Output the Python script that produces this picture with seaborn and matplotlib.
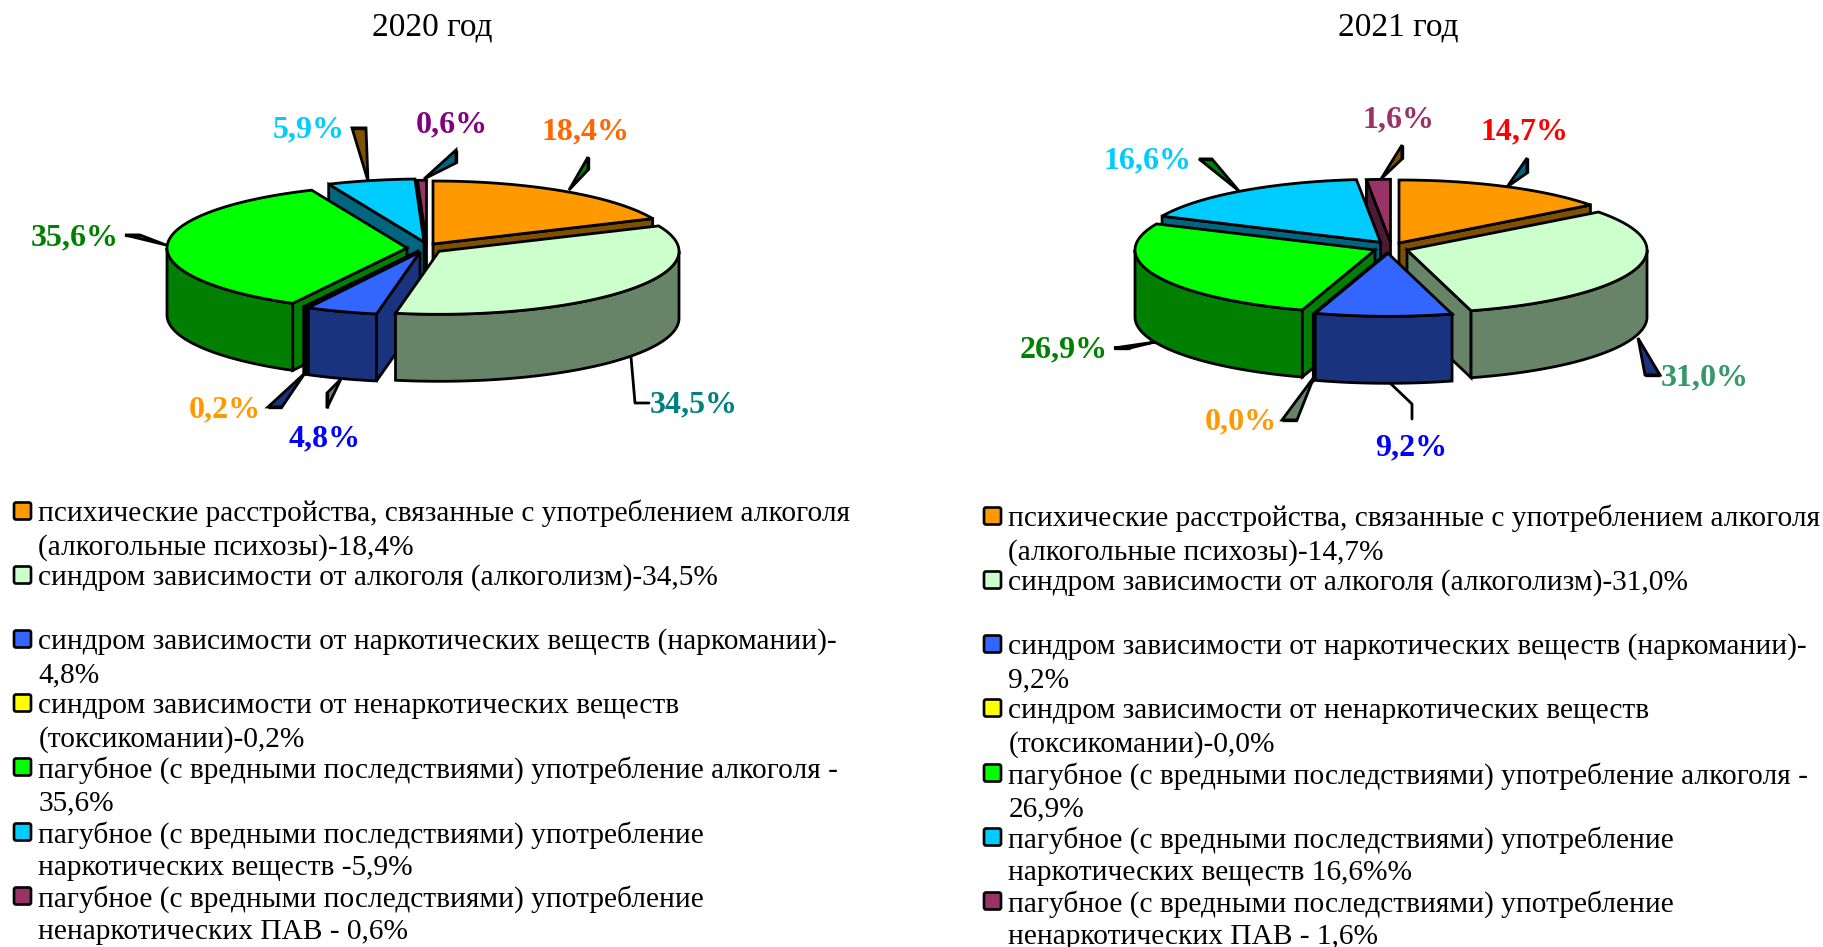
import numpy as np
import matplotlib
matplotlib.use("Agg")
import matplotlib.pyplot as plt
from matplotlib.patches import Polygon, FancyBboxPatch
import seaborn as sns

# ---------- data ----------
titles = ["2020 год", "2021 год"]
values_2020 = [18.4, 34.5, 4.8, 0.2, 35.6, 5.9, 0.6]
values_2021 = [14.7, 31.0, 9.2, 0.0, 26.9, 16.6, 1.6]
labels_2020 = ["18,4%", "34,5%", "4,8%", "0,2%", "35,6%", "5,9%", "0,6%"]
labels_2021 = ["14,7%", "31,0%", "9,2%", "0,0%", "26,9%", "16,6%", "1,6%"]
legend_2020 = [
    ["психические расстройства, связанные с употреблением алкоголя", "(алкогольные психозы)-18,4%"],
    ["синдром зависимости от алкоголя (алкоголизм)-34,5%"],
    ["синдром зависимости от наркотических веществ (наркомании)-", "4,8%"],
    ["синдром зависимости от ненаркотических веществ", "(токсикомании)-0,2%"],
    ["пагубное (с вредными последствиями) употребление алкоголя -", "35,6%"],
    ["пагубное (с вредными последствиями) употребление", "наркотических веществ -5,9%"],
    ["пагубное (с вредными последствиями) употребление", "ненаркотических ПАВ - 0,6%"],
]
legend_2021 = [
    ["психические расстройства, связанные с употреблением алкоголя", "(алкогольные психозы)-14,7%"],
    ["синдром зависимости от алкоголя (алкоголизм)-31,0%"],
    ["синдром зависимости от наркотических веществ (наркомании)-", "9,2%"],
    ["синдром зависимости от ненаркотических веществ", "(токсикомании)-0,0%"],
    ["пагубное (с вредными последствиями) употребление алкоголя -", "26,9%"],
    ["пагубное (с вредными последствиями) употребление", "наркотических веществ 16,6%%"],
    ["пагубное (с вредными последствиями) употребление", "ненаркотических ПАВ - 1,6%"],
]

# ---------- styles ----------
top_colors = sns.color_palette(["#FF9900", "#CCFFCC", "#3366FF", "#FFFF00", "#00FF00", "#00CCFF", "#993366"])
side_colors = sns.color_palette(["#7F5000", "#688468", "#1A337F", "#7F7F00", "#007F00", "#006680", "#4D1A33"])
label_colors_2020 = ["#FF6600", "#008080", "#0000FF", "#FF9900", "#008000", "#00CCFF", "#800080"]
label_colors_2021 = ["#FF0000", "#339966", "#0000FF", "#FF9900", "#008000", "#00CCFF", "#993366"]

sns.set_theme(style="white")
plt.rcParams["font.family"] = ["Liberation Serif", "DejaVu Serif"]

RX, RY, DEPTH = 240, 63, 67
LW = 2.0

# ---------- layout (pixel positions on the sheet) ----------
apex_2020 = [(433, 244), (439, 251.3), (420, 252), (418, 251.3), (407, 248), (424, 242), (426.5, 243.3)]
apex_2021 = [(1399, 243), (1407, 250), (1388, 253.3), (1386, 254), (1375, 250), (1380.5, 242.3), (1390.5, 242.3)]
order_2020 = [0, 6, 5, 4, 3, 2, 1]
order_2021 = [0, 6, 5, 1, 4, 3, 2]
label_pos_2020 = [(586, 132), (694, 405), (325, 439), (225, 410), (75, 238), (309, 130), (452, 125)]
label_pos_2021 = [(1525, 132), (1705, 378), (1411, 448), (1241, 422), (1064, 350), (1148, 161), (1399, 120)]

# leader: tip on the pie, then two outer points; last item = colour index
leaders_2020 = [
    ((569, 190), (588, 157), (588, 170), 4),
    ((424, 179), (456, 150), (456, 163), 5),
    ((368, 181), (352, 128), (366, 128), 0),
    ((166, 245), (125, 235), (140, 235), 3),
    ((305, 373), (268, 407), (282, 407), 2),
    ((341, 379), (327, 393), (327, 408), 1),
]
lines_2020 = [[(631, 357), (635, 403), (649, 403)]]
leaders_2021 = [
    ((1507, 187), (1527, 158), (1527, 173), 5),
    ((1381, 179), (1402, 145), (1402, 159), 0),
    ((1239, 191), (1199, 159), (1212, 159), 4),
    ((1155, 342), (1114, 348), (1130, 348), 3),
    ((1314, 377), (1282, 420), (1297, 420), 1),
    ((1638, 338), (1645, 375), (1660, 375), 2),
]
lines_2021 = [[(1390, 383), (1412, 404), (1412, 419)]]

legend_y_2020 = [510.5, 574.5, 638.5, 702.5, 766.5, 831.5, 895.5]
legend_y_2021 = [515.5, 579.5, 643.5, 707.5, 772.5, 836.5, 900.5]


fig = plt.figure(figsize=(18.24, 9.47), dpi=100, facecolor="white")
ax = fig.add_axes([0, 0, 1, 1])
ax.set_xlim(0, 1824)
ax.set_ylim(947, 0)
ax.axis("off")
sns.despine(ax=ax, left=True, bottom=True)


def rim(c, th):
    return np.column_stack([c[0] + RX * np.sin(th), c[1] - RY * np.cos(th)])


def add_poly(pts, face, z):
    ax.add_patch(Polygon(pts, closed=True, facecolor=face, edgecolor="black",
                         linewidth=LW, joinstyle="miter", zorder=z))


def draw_pie(values, apexes, order):
    edges = np.radians(np.concatenate([[0], np.cumsum(values)]) / np.sum(values) * 360)
    z = 2
    for i in order:
        c, t0, t1 = apexes[i], edges[i], edges[i + 1]
        # radial walls that face the viewer
        for t, visible in ((t0, np.sin(t0) < -1e-9), (t1, np.sin(t1) > 1e-9)):
            if visible:
                p = rim(c, np.array([t]))[0]
                add_poly([c, p, (p[0], p[1] + DEPTH), (c[0], c[1] + DEPTH)], side_colors[i], z)
                z += 1
        # outer wall (front half only)
        lo, hi = max(t0, np.pi / 2), min(t1, 3 * np.pi / 2)
        if hi > lo:
            arc = rim(c, np.linspace(lo, hi, 80))
            low = arc[::-1] + [0, DEPTH]
            add_poly(np.vstack([arc, low]), side_colors[i], z)
            z += 1
        # top
        arc = rim(c, np.linspace(t0, t1, 120))
        add_poly(np.vstack([[c], arc]), top_colors[i], z)
        z += 1


def draw_leaders(leaders, lines):
    for tip, a, b, idx in leaders:
        add_poly([tip, a, b], side_colors[idx], 200)
        ax.plot([a[0], b[0]], [a[1], b[1]], color="black", lw=2.4, zorder=201, solid_capstyle="butt")
    for ln in lines:
        xs, ys = zip(*ln)
        ax.plot(xs, ys, color="black", lw=LW, zorder=201)


def draw_labels(labels, pos, colors):
    for s, (x, y), col in zip(labels, pos, colors):
        ax.text(x, y, s, ha="center", va="center", color=col, fontsize=23, fontweight="bold", zorder=300)


def draw_legend(items, ys, x_sw, x_txt):
    for i, (lines, y) in enumerate(zip(items, ys)):
        ax.add_patch(FancyBboxPatch((x_sw + 1, y - 8), 17, 17, boxstyle="round,pad=0,rounding_size=2",
                                    facecolor=top_colors[i], edgecolor="black", linewidth=1.9, zorder=5))
        for k, s in enumerate(lines):
            ax.text(x_txt, y + k * 33.5, s, ha="left", va="center_baseline", color="black", fontsize=21.15)


draw_pie(values_2020, apex_2020, order_2020)
draw_pie(values_2021, apex_2021, order_2021)
draw_leaders(leaders_2020, lines_2020)
draw_leaders(leaders_2021, lines_2021)
draw_labels(labels_2020, label_pos_2020, label_colors_2020)
draw_labels(labels_2021, label_pos_2021, label_colors_2021)
draw_legend(legend_2020, legend_y_2020, 13, 38.5)
draw_legend(legend_2021, legend_y_2021, 983, 1008.5)
ax.text(432, 27.5, titles[0], ha="center", va="center", color="black", fontsize=24)
ax.text(1398, 27.5, titles[1], ha="center", va="center", color="black", fontsize=24)

fig.savefig("out.png", dpi=100, facecolor="white")
